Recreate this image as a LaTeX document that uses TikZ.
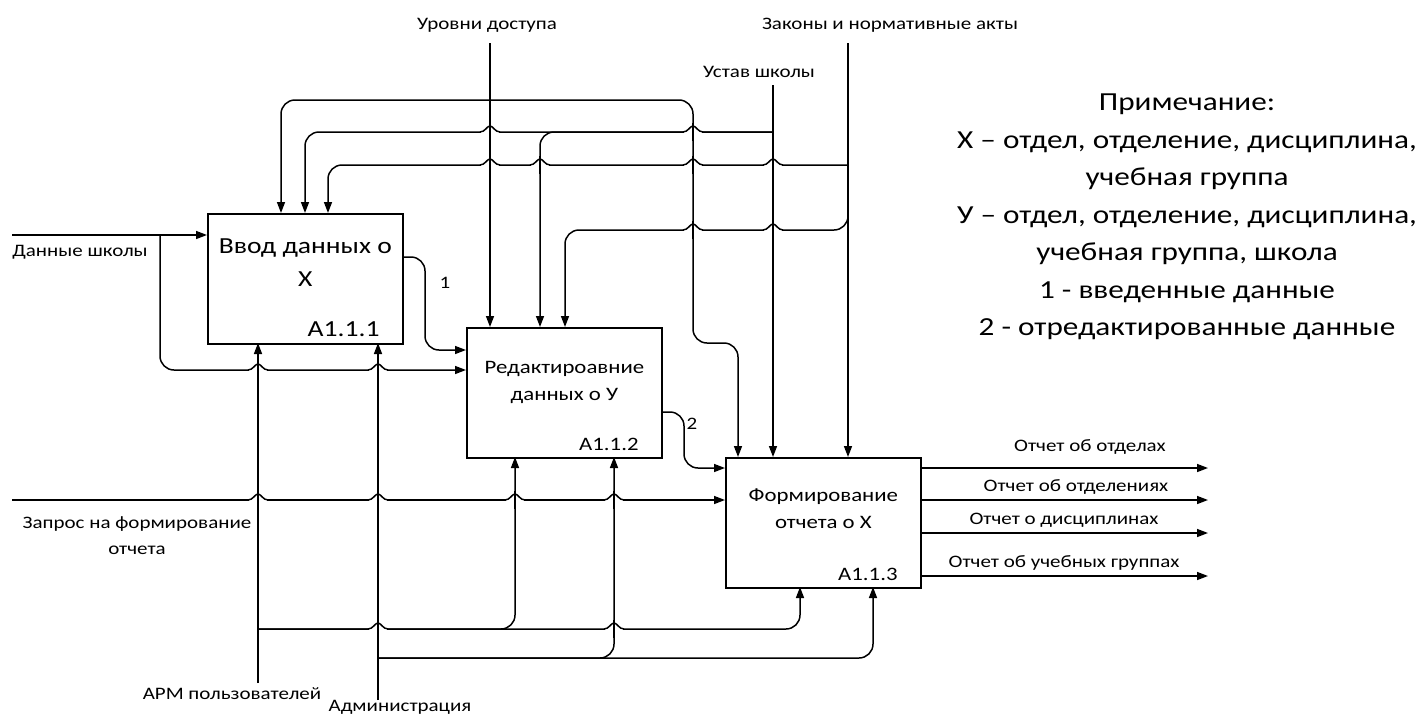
\documentclass[tikz,border=0pt]{standalone}
\usepackage{fontspec}
\setmainfont{Carlito}[FakeStretch=1.2]
\usetikzlibrary{calc,arrows.meta,positioning}

% jump of a horizontal line over a vertical one at x=#1, y=#2
\newcommand{\jmp}[2]{%
  \fill[white] ({#1-9},{#2-2}) rectangle ({#1+9},{#2+2});
  \draw[line width=1.5pt] (#1,{#2-9}) -- (#1,{#2+9});
  \draw[line width=1.5pt] ({#1-10},#2) .. controls ({#1-5},#2) and ({#1-3},{#2-6}) .. (#1,{#2-6})
    .. controls ({#1+3},{#2-6}) and ({#1+5},#2) .. ({#1+10},#2);
}

% \Blk{name}{x}{y}{textstyle}{drop}{title}{index}
\newcommand{\Blk}[7]{%
  \node[blk, anchor=north west] (#1) at (#2,#3) {};
  \node[#4, align=center, below=#5 of #1.north] (#1-t) {#6};
  \node[#4, above left=7.5pt and 24pt of #1.south east] (#1-n) {#7};
}

\tikzset{
  blk/.style={draw, line width=1.8pt, minimum width=195pt, minimum height=130pt, inner sep=0pt},
  flow/.style={line width=1.5pt, rounded corners=14pt},
  t1/.style={font=\fontsize{23}{33}\selectfont, inner sep=0pt},
  t2/.style={font=\fontsize{19}{27}\selectfont, inner sep=0pt},
  lbl/.style={font=\fontsize{17.5}{26}\selectfont, inner sep=0pt},
  note/.style={font=\fontsize{26}{37.5}\selectfont, inner sep=0pt, align=center}
}

\begin{document}
\begin{tikzpicture}[x=1pt,y=-1pt,>={Triangle[length=11pt,width=8pt]}]
\useasboundingbox (0,0) rectangle (1427,715);

% ----- blocks -----
\Blk{b1}{207}{213}{t1}{25.6pt}{Ввод данных о\\Х}{A1.1.1}
\Blk{b2}{466}{327}{t2}{34pt}{Редактироавние\\данных о У}{A1.1.2}
\Blk{b3}{725}{457}{t2}{32pt}{Формирование\\отчета о Х}{A1.1.3}

% ----- ports (c = control, i = input, o = output, m = mechanism) -----
\foreach \p/\dx/\dy in {c1/74/0, c2/98/0, c3/121/0, i1/0/22, o1/195/44, m1/51/130, m2/171/130}
  \coordinate (b1-\p) at ($(b1.north west)+(\dx,\dy)$);
\foreach \p/\dx/\dy in {c1/24/0, c2/74/0, c3/99/0, i1/0/23, i2/0/43, o1/195/85, m1/49/130, m2/148/130}
  \coordinate (b2-\p) at ($(b2.north west)+(\dx,\dy)$);
\foreach \p/\dx/\dy in {c1/13/0, c2/48/0, c3/123/0, i1/0/11, i2/0/43, o1/195/11, o2/195/43, o3/195/76, o4/195/119, m1/75/130, m2/148/130}
  \coordinate (b3-\p) at ($(b3.north west)+(\dx,\dy)$);

% ----- free ends -----
\coordinate (lvl) at (b2-c1 |- 0,43);
\coordinate (ust) at (b3-c2 |- 0,85);
\coordinate (zak) at (b3-c3 |- 0,43);
\coordinate (dan) at (12,0 |- b1-i1);
\coordinate (zap) at (12,0 |- b3-i2);
\coordinate (arm) at (b1-m1 |- 0,683);
\coordinate (adm) at (b1-m2 |- 0,700);

% ----- labels -----
\node[lbl] (lvl-l) at (487,25) {Уровни доступа};
\node[lbl] (ust-l) at (759,72) {Устав школы};
\node[lbl] (zak-l) at (890,25) {Законы и нормативные акты};
\node[lbl] (dan-l) at (80,252) {Данные школы};
\node[lbl, align=center] (zap-l) at (137,536) {Запрос на формирование\\отчета};
\node[lbl] (arm-l) at (232,694) {АРМ пользователей};
\node[lbl] (adm-l) at (400,707) {Администрация};
\node[lbl] (n1) at (445,283) {1};
\node[lbl] (n2) at (692,424) {2};

% ----- controls -----
\draw[flow,->] (lvl) -- (b2-c1);
\draw[flow,->] (lvl |- 0,100) -- (b1-c1 |- 0,100) -- (b1-c1);
\draw[flow,->] (lvl |- 0,100) -- (693,100) -- (693,343) -- (b3-c1 |- 0,343) -- (b3-c1);

\draw[flow,->] (ust) -- (b3-c2);
\draw[flow,->] (ust |- 0,132) -- (b2-c2 |- 0,132) -- (b2-c2);
\draw[flow,->] (ust |- 0,132) -- (b1-c2 |- 0,132) -- (b1-c2);

\draw[flow,->] (zak) -- (b3-c3);
\draw[flow,->] (zak |- 0,165) -- (b1-c3 |- 0,165) -- (b1-c3);
\draw[flow,->] (zak |- 0,165) -- (zak |- 0,230) -- (b2-c3 |- 0,230) -- (b2-c3);

% ----- inputs -----
\draw[flow,->] (dan) -- (b1-i1);
\draw[flow,->] (160,0 |- dan) -- (160,0 |- b2-i2) -- (b2-i2);
\draw[flow,->] (zap) -- (b3-i2);

% 1 and 2
\draw[flow,->] (b1-o1) -- (425,0 |- b1-o1) -- (425,0 |- b2-i1) -- (b2-i1);
\draw[flow,->] (b2-o1) -- (684,0 |- b2-o1) -- (684,0 |- b3-i1) -- (b3-i1);

% ----- mechanisms -----
\draw[flow,->] (arm) -- (b1-m1);
\draw[flow,->] (b1-m1 |- 0,629) -- (b2-m1 |- 0,629) -- (b2-m1);
\draw[flow,->] (b1-m1 |- 0,629) -- (b3-m1 |- 0,629) -- (b3-m1);

\draw[flow,->] (adm) -- (b1-m2);
\draw[flow,->] (b1-m2 |- 0,658) -- (b2-m2 |- 0,658) -- (b2-m2);
\draw[flow,->] (b1-m2 |- 0,658) -- (b3-m2 |- 0,658) -- (b3-m2);

% ----- outputs -----
\foreach \p/\lx/\ly/\txt in {o1/1090/447/Отчет об отделах, o2/1076/487/Отчет об отделениях, o3/1064/520/Отчет о дисциплинах, o4/1064/563/Отчет об учебных группах}{
  \draw[flow,->] (b3-\p) -- (1208,0 |- b3-\p);
  \node[lbl] (lb-\p) at (\lx,\ly) {\txt};
}

% ----- jumps where lines cross -----
\foreach \x/\y in {693/132, 490/132, 773/165, 693/165, 540/165, 490/165, 773/230, 693/230,
                   258/370, 378/370, 258/500, 378/500, 515/500, 614/500, 378/629, 614/629}
  \jmp{\x}{\y};

% ----- note -----
\node[note] (nt) at (1187,217) {Примечание:\\Х – отдел, отделение, дисциплина,\\учебная группа\\У – отдел, отделение, дисциплина,\\учебная группа, школа\\1 - введенные данные\\2 - отредактированные данные};

\end{tikzpicture}
\end{document}
